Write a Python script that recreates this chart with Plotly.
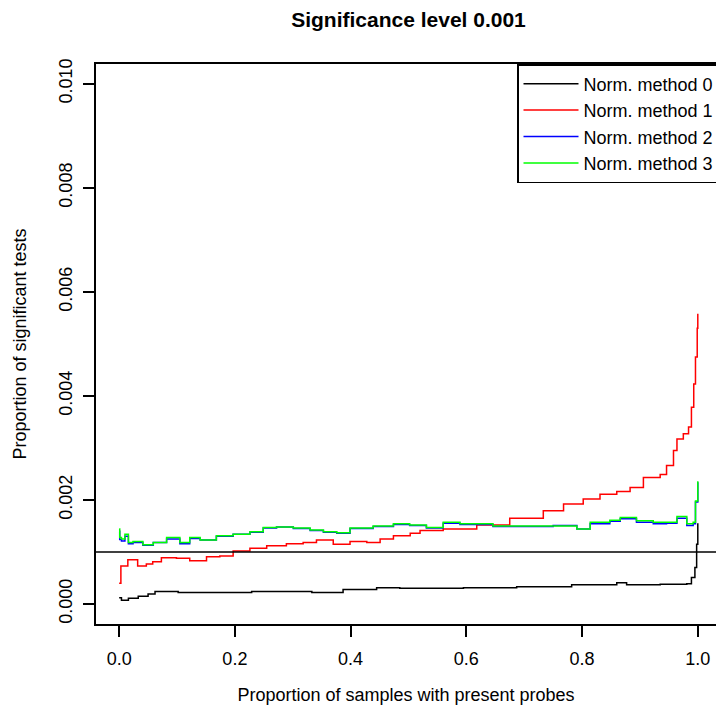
import plotly.graph_objects as go

# ---- data ----
x_method0 = [0.000, 0.004, 0.016, 0.033, 0.050, 0.062, 0.102, 0.150, 0.229, 0.333, 0.387,
             0.445, 0.485, 0.595, 0.687, 0.782, 0.860, 0.877, 0.935, 0.981, 0.989, 0.995,
             0.998, 1.000]
y_method0 = [0.00012, 0.00007, 0.00011, 0.00015, 0.00019, 0.00024, 0.00022, 0.00022, 0.00024,
             0.00022, 0.00028, 0.00031, 0.00030, 0.00031, 0.00033, 0.00037, 0.00041, 0.00037,
             0.00038, 0.00039, 0.00051, 0.00070, 0.00115, 0.00155]

x_method1 = [0.000, 0.003, 0.015, 0.032, 0.047, 0.058, 0.073, 0.099, 0.122, 0.151, 0.174,
             0.197, 0.226, 0.255, 0.289, 0.318, 0.341, 0.370, 0.399, 0.428, 0.451, 0.474,
             0.503, 0.520, 0.560, 0.618, 0.675, 0.733, 0.768, 0.802, 0.831, 0.860, 0.883,
             0.906, 0.935, 0.946, 0.958, 0.964, 0.975, 0.984, 0.989, 0.993, 0.996, 0.999,
             1.000]
y_method1 = [0.00040, 0.00073, 0.00085, 0.00073, 0.00077, 0.00081, 0.00089, 0.00088, 0.00083,
             0.00091, 0.00092, 0.00102, 0.00107, 0.00112, 0.00116, 0.00118, 0.00123, 0.00115,
             0.00120, 0.00118, 0.00125, 0.00131, 0.00136, 0.00141, 0.00144, 0.00152, 0.00165,
             0.00179, 0.00192, 0.00202, 0.00211, 0.00216, 0.00224, 0.00243, 0.00249, 0.00266,
             0.00295, 0.00317, 0.00327, 0.00340, 0.00378, 0.00423, 0.00475, 0.00530, 0.00558]

x_method23 = [0.000, 0.001, 0.004, 0.010, 0.016, 0.024, 0.041, 0.059, 0.082, 0.105, 0.122,
              0.140, 0.168, 0.197, 0.226, 0.249, 0.272, 0.301, 0.330, 0.353, 0.376, 0.399,
              0.439, 0.474, 0.502, 0.531, 0.560, 0.589, 0.646, 0.704, 0.750, 0.791, 0.814,
              0.848, 0.866, 0.894, 0.923, 0.946, 0.964, 0.981, 0.992, 0.996, 1.000]
y_method2 = [0.00140, 0.00124, 0.00121, 0.00130, 0.00116, 0.00118, 0.00113, 0.00118, 0.00125,
             0.00116, 0.00126, 0.00123, 0.00130, 0.00134, 0.00138, 0.00146, 0.00148, 0.00145,
             0.00141, 0.00138, 0.00136, 0.00145, 0.00149, 0.00153, 0.00151, 0.00146, 0.00155,
             0.00153, 0.00149, 0.00149, 0.00151, 0.00144, 0.00154, 0.00159, 0.00164, 0.00157,
             0.00154, 0.00155, 0.00165, 0.00151, 0.00154, 0.00196, 0.00234]
y_method3 = [0.00144, 0.00128, 0.00125, 0.00134, 0.00118, 0.00120, 0.00114, 0.00118, 0.00128,
             0.00118, 0.00128, 0.00123, 0.00131, 0.00134, 0.00139, 0.00147, 0.00148, 0.00146,
             0.00142, 0.00139, 0.00137, 0.00146, 0.00150, 0.00154, 0.00152, 0.00147, 0.00157,
             0.00154, 0.00150, 0.00150, 0.00150, 0.00144, 0.00157, 0.00161, 0.00166, 0.00160,
             0.00157, 0.00157, 0.00168, 0.00154, 0.00157, 0.00198, 0.00236]

series_names = ["Norm. method 0", "Norm. method 1", "Norm. method 2", "Norm. method 3"]
series_colors = ["#000000", "#ff0000", "#0000ff", "#00ff00"]
significance_level = 0.001

x_ticks = [0.0, 0.2, 0.4, 0.6, 0.8, 1.0]
y_ticks = [0.000, 0.002, 0.004, 0.006, 0.008, 0.010]

FONT = "Liberation Sans, Arial, Helvetica, sans-serif"

fig = go.Figure()
series = [
    (x_method0, y_method0),
    (x_method1, y_method1),
    (x_method23, y_method2),
    (x_method23, y_method3),
]
for (xs, ys), name, col in zip(series, series_names, series_colors):
    fig.add_trace(go.Scatter(x=xs, y=ys, mode="lines", name=name,
                             line=dict(color=col, width=1.5, shape="hv")))

fig.add_shape(type="line", xref="paper", yref="y", x0=0, x1=1,
              y0=significance_level, y1=significance_level,
              line=dict(color="#000000", width=1.5))

fig.update_layout(
    width=716, height=713,
    margin=dict(l=96, r=0, t=64, b=89, autoexpand=False),
    paper_bgcolor="white", plot_bgcolor="white",
    font=dict(family=FONT, size=18, color="black"),
    title=dict(text="<b>Significance level 0.001</b>", font=dict(size=21, family=FONT),
               x=408.5 / 716, xref="container", xanchor="center",
               y=1 - 20 / 713, yref="container", yanchor="middle"),
    showlegend=True,
    legend=dict(x=(517 - 96) / 620, y=1, xanchor="left", yanchor="top",
                bordercolor="black", borderwidth=1.5, bgcolor="white",
                font=dict(size=18, family=FONT), itemwidth=55,
                tracegroupgap=0),
    xaxis=dict(range=[-0.04, (716 - 119.3) / 578.5], tickvals=x_ticks,
               ticktext=[f"{v:.1f}" for v in x_ticks],
               showgrid=False, zeroline=False, showline=True, linecolor="black",
               linewidth=1.5, mirror=True, ticks="outside", ticklen=11,
               tickwidth=1.5, tickcolor="black", ticklabelstandoff=7,
               title=dict(text="Proportion of samples with present probes",
                          font=dict(size=18), standoff=20)),
    yaxis=dict(range=[-0.000385, 0.01038], tickvals=y_ticks,
               ticktext=[f"{v:.3f}" for v in y_ticks], tickangle=-90,
               showgrid=False, zeroline=False, showline=True, linecolor="black",
               linewidth=1.5, mirror=False, ticks="outside", ticklen=11,
               tickwidth=1.5, tickcolor="black", ticklabelstandoff=4,
               title=dict(text="Proportion of significant tests",
                          font=dict(size=18), standoff=25)),
)

fig.write_html("out.html")
